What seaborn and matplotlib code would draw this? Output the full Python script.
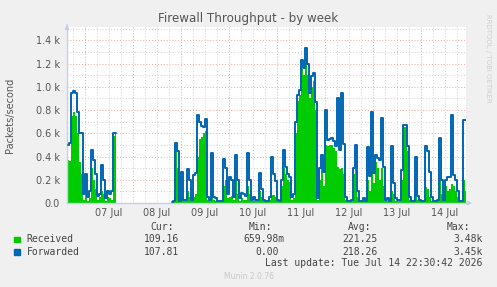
import numpy as np
import pandas as pd
import matplotlib
matplotlib.use("Agg")
import matplotlib.pyplot as plt
import seaborn as sns

# ---------------- data (hourly samples, packets/second) ----------------
start_time = "2026-07-06 15:39"
ref_time = "2026-07-07 00:00"
nan = float("nan")

forwarded_k = [
    0.50, 0.52, 0.95, 0.96, 0.95, 0.78, 0.60, 0.60, 0.08, 0.25,
    0.05, 0.10, 0.46, 0.37, 0.25, 0.06, 0.08, 0.33, 0.20, 0.04,
    0.10, 0.08, 0.10, 0.60, 0.60, nan, nan, nan, nan, nan,
    nan, nan, nan, nan, nan, nan, nan, nan, nan, nan,
    nan, nan, nan, nan, nan, nan, nan, nan, nan, nan,
    nan, nan, 0.01, 0.02, 0.52, 0.45, 0.02, 0.27, 0.03, 0.03,
    0.29, 0.20, 0.03, 0.24, 0.26, 0.76, 0.70, 0.66, 0.65, 0.72,
    0.05, 0.03, 0.43, 0.05, 0.04, 0.02, 0.02, 0.02, 0.38, 0.30,
    0.08, 0.22, 0.20, 0.05, 0.41, 0.20, 0.04, 0.09, 0.08, 0.06,
    0.43, 0.20, 0.03, 0.05, 0.03, 0.03, 0.26, 0.12, 0.03, 0.02,
    0.02, 0.05, 0.40, 0.25, 0.19, 0.03, 0.02, 0.20, 0.46, 0.31,
    0.25, 0.22, 0.05, 0.08, 0.70, 0.93, 0.97, 1.23, 1.16, 1.33,
    1.20, 0.95, 1.09, 1.12, 0.87, 0.04, 0.30, 0.41, 0.27, 0.80,
    0.54, 0.55, 0.56, 0.53, 0.49, 0.90, 0.46, 0.945, 0.51, 0.05,
    0.02, 0.02, 0.03, 0.30, 0.50, 0.10, 0.02, 0.02, 0.04, 0.02,
    0.48, 0.23, 0.78, 0.26, 0.41, 0.39, 0.37, 0.73, 0.31, 0.03,
    0.04, 0.02, 0.49, 0.17, 0.04, 0.03, 0.03, 0.28, 0.67, 0.67,
    0.49, 0.05, 0.02, 0.02, 0.40, 0.06, 0.03, 0.02, 0.02, 0.49,
    0.45, 0.27, 0.05, 0.02, 0.02, 0.03, 0.56, 0.20, 0.03, 0.20,
    0.22, 0.22, 0.76, 0.24, 0.20, 0.10, 0.02, 0.02, 0.71, 0.71,
]
received_k = [
    0.37, 0.36, 0.75, 0.78, 0.75, 0.60, 0.35, 0.25, 0.03, 0.08,
    0.02, 0.04, 0.30, 0.20, 0.12, 0.03, 0.05, 0.10, 0.08, 0.02,
    0.05, 0.04, 0.03, 0.58, 0.60, nan, nan, nan, nan, nan,
    nan, nan, nan, nan, nan, nan, nan, nan, nan, nan,
    nan, nan, nan, nan, nan, nan, nan, nan, nan, nan,
    nan, nan, 0.01, 0.01, 0.50, 0.30, 0.01, 0.05, 0.02, 0.02,
    0.10, 0.05, 0.02, 0.05, 0.08, 0.40, 0.55, 0.57, 0.60, 0.62,
    0.03, 0.02, 0.10, 0.03, 0.02, 0.01, 0.01, 0.01, 0.15, 0.20,
    0.04, 0.05, 0.06, 0.03, 0.20, 0.08, 0.02, 0.04, 0.03, 0.03,
    0.15, 0.08, 0.02, 0.02, 0.02, 0.02, 0.10, 0.05, 0.02, 0.01,
    0.01, 0.03, 0.07, 0.07, 0.05, 0.02, 0.01, 0.15, 0.30, 0.25,
    0.20, 0.18, 0.03, 0.04, 0.60, 0.88, 0.93, 1.15, 1.10, 1.25,
    1.10, 0.90, 1.00, 1.05, 0.80, 0.03, 0.20, 0.30, 0.15, 0.50,
    0.49, 0.50, 0.50, 0.47, 0.45, 0.31, 0.29, 0.30, 0.25, 0.03,
    0.01, 0.01, 0.02, 0.25, 0.45, 0.05, 0.01, 0.01, 0.02, 0.01,
    0.20, 0.10, 0.30, 0.17, 0.35, 0.30, 0.20, 0.30, 0.15, 0.02,
    0.02, 0.01, 0.10, 0.08, 0.02, 0.02, 0.02, 0.20, 0.65, 0.65,
    0.45, 0.03, 0.01, 0.01, 0.15, 0.03, 0.03, 0.03, 0.01, 0.14,
    0.12, 0.05, 0.02, 0.01, 0.01, 0.02, 0.20, 0.08, 0.02, 0.15,
    0.10, 0.12, 0.16, 0.15, 0.10, 0.05, 0.01, 0.01, 0.20, 0.10,
]
day_labels = ["07 Jul", "08 Jul", "09 Jul", "10 Jul", "11 Jul", "12 Jul", "13 Jul", "14 Jul"]
y_tick_values = [0, 200, 400, 600, 800, 1000, 1200, 1400]
y_tick_labels = ["0.0", "0.2 k", "0.4 k", "0.6 k", "0.8 k", "1.0 k", "1.2 k", "1.4 k"]
legend_names = ["Received", "Forwarded"]
cur_vals = ["109.16", "107.81"]
min_vals = ["659.98m", "0.00"]
avg_vals = ["221.25", "218.26"]
max_vals = ["3.48k", "3.45k"]
last_update = "Last update: Tue Jul 14 22:30:42 2026"

# ---------------- prep ----------------
times = pd.date_range(start_time, periods=len(forwarded_k), freq="h")
hours = (times - pd.Timestamp(ref_time)) / pd.Timedelta(hours=1)
df = pd.DataFrame({
    "h": np.asarray(hours, dtype=float),
    "received": np.array(received_k) * 1000,
    "forwarded": np.array(forwarded_k) * 1000,
})
valid = df["forwarded"].notna()
df["seg"] = (valid != valid.shift()).cumsum()

GREEN = "#00CC00"
BLUE = "#0066B3"
BG = "#F0F0F0"
TXT = "#555555"
AXC = "#C8CCF0"

sns.set_style("white")
plt.rcParams["font.family"] = ["DejaVu Sans"]

W, H = 497, 287
fig = plt.figure(figsize=(W / 100, H / 100), dpi=100, facecolor=BG)
L, R, T, B = 67, 466, 27, 203
ax = fig.add_axes([L / W, (H - B) / H, (R - L) / W, (B - T) / H])
ax.set_facecolor("white")

x0 = -8.85
x1 = x0 + (R - L) / 2.0
ymax = 1400 * (B - T) / (B - 40.3)
ax.set_xlim(x0, x1)
ax.set_ylim(0, ymax)

# grid
dot = (0, (1, 2))
for v in np.arange(100, ymax, 100):
    major = int(round(v)) % 200 == 0
    ax.axhline(v, color="#F0A8A8" if major else "#D0D0D0", lw=0.7, ls=dot, zorder=1)
for hh in np.arange(-6, x1, 6):
    major = int(round(hh)) % 24 == 0
    ax.axvline(hh, color="#F0A8A8" if major else "#D0D0D0", lw=0.7, ls=dot, zorder=1)

# data
for _, seg in df[valid].groupby("seg"):
    ax.fill_between(seg["h"], 0, seg["received"], step="mid", color=GREEN, lw=0, zorder=2)
    sns.lineplot(data=seg, x="h", y="forwarded", ax=ax, color=BLUE, lw=1.4,
                 drawstyle="steps-mid", estimator=None, zorder=3, legend=False)

ax.set_xlabel("")
ax.set_ylabel("")
for s in ["top", "right"]:
    ax.spines[s].set_visible(False)
for s in ["left", "bottom"]:
    ax.spines[s].set_color(AXC)
    ax.spines[s].set_linewidth(1.0)

ax.set_yticks(y_tick_values, y_tick_labels)
ax.tick_params(axis="y", length=3, width=0.7, color="#F0A8A8", labelsize=7,
               labelcolor=TXT, pad=2)
ax.set_xticks(np.arange(0, x1, 24), [""] * len(np.arange(0, x1, 24)))
ax.tick_params(axis="x", length=2, width=0.7, color="#F0A8A8", direction="out")
ax.set_xticks(np.arange(-6, x1, 6), minor=True)
ax.tick_params(axis="x", which="minor", length=2, width=0.7, color=AXC)
for i, lab in enumerate(day_labels):
    ax.text(12 + 24 * i, -0.055, lab, transform=ax.get_xaxis_transform(),
            ha="center", va="center", fontsize=7, color=TXT)

# axis arrows
ax.annotate("", xy=(x0, ymax + 45), xytext=(x0, ymax - 10), xycoords="data",
            arrowprops=dict(arrowstyle="-|>", color=AXC, lw=1.0, mutation_scale=6),
            annotation_clip=False)
ax.annotate("", xy=(x1 + 4.5, 0), xytext=(x1 - 0.5, 0), xycoords="data",
            arrowprops=dict(arrowstyle="-|>", color=AXC, lw=1.0, mutation_scale=6),
            annotation_clip=False)

def ft(x, y, s, **kw):
    fig.text(x / W, 1 - y / H, s, **kw)

ft(248.5, 18.5, "Firewall Throughput - by week", ha="center", va="center",
   fontsize=8.6, color=TXT)
ft(10, 115, "Packets/second", ha="center", va="center", rotation=90,
   fontsize=7, color=TXT)
ft(488, 58, "RRDTOOL / TOBI OETIKER", ha="center", va="center", rotation=270,
   fontsize=5.0, color="#CFCFCF")

mono = dict(family="DejaVu Sans Mono", fontsize=7, color="#444444", va="center")
ft(173.5, 227, "Cur:", ha="right", **mono)
ft(272.5, 227, "Min:", ha="right", **mono)
ft(371.5, 227, "Avg:", ha="right", **mono)
ft(470.5, 227, "Max:", ha="right", **mono)
rows_y = [239.5, 251.7]
colors = [GREEN, BLUE]
for k in range(2):
    y = rows_y[k]
    fig.patches.append(plt.Rectangle((14 / W, 1 - (y + 2.8) / H), 5.5 / W, 5.5 / H,
                                     transform=fig.transFigure, color=colors[k]))
    ft(26.5, y, legend_names[k], ha="left", **mono)
    ft(179.5, y, cur_vals[k], ha="right", **mono)
    mx = 284.5 if min_vals[k].endswith("m") else 278.7
    ft(mx, y, min_vals[k], ha="right", **mono)
    ft(377.5, y, avg_vals[k], ha="right", **mono)
    ft(482.8, y, max_vals[k], ha="right", **mono)
ft(482.8, 263.3, last_update, ha="right", **mono)
ft(248.5, 276.3, "Munin 2.0.76", ha="center", va="center", fontsize=5.5, color="#C8C8C8")

fig.savefig("out.png", dpi=100, facecolor=BG)
